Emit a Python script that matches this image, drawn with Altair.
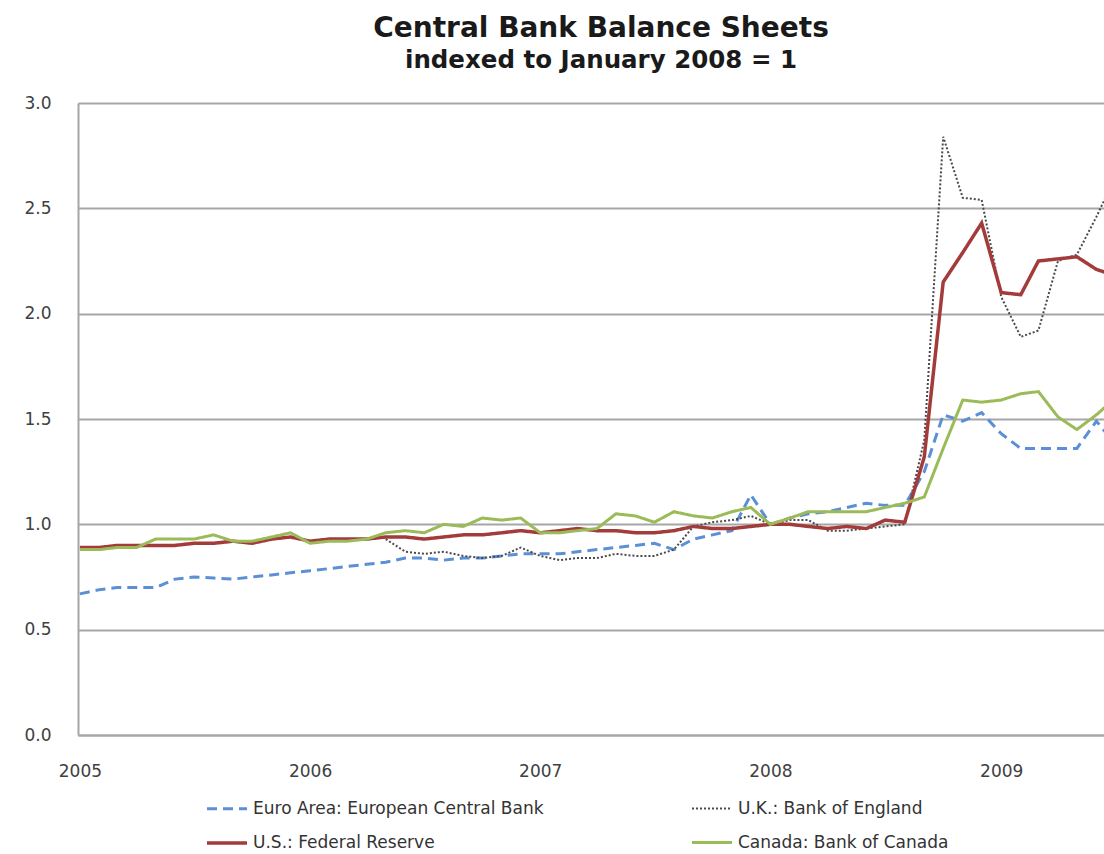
import altair as alt
import pandas as pd

months = pd.date_range("2005-01-01", "2009-07-01", freq="MS").strftime("%Y-%m-%d").tolist()

euro = [0.67, 0.69, 0.70, 0.70, 0.70, 0.74, 0.75, 0.745, 0.74, 0.75, 0.76, 0.77,
        0.78, 0.79, 0.80, 0.81, 0.82, 0.84, 0.84, 0.83, 0.84, 0.84, 0.85, 0.86,
        0.86, 0.86, 0.87, 0.88, 0.89, 0.90, 0.91, 0.88, 0.93, 0.95, 0.97, 1.14,
        1.00, 1.03, 1.05, 1.06, 1.08, 1.10, 1.09, 1.09, 1.25, 1.52, 1.49, 1.53,
        1.43, 1.36, 1.36, 1.36, 1.36, 1.49, 1.38]

uk = [None] * 16 + [0.93, 0.87, 0.86, 0.87, 0.85, 0.84, 0.85, 0.89,
      0.85, 0.83, 0.84, 0.84, 0.86, 0.85, 0.85, 0.88, 0.99, 1.01, 1.02, 1.04,
      1.00, 1.02, 1.02, 0.97, 0.97, 0.98, 0.99, 1.00, 1.40, 2.84, 2.55, 2.54,
      2.08, 1.89, 1.92, 2.25, 2.28, 2.46, 2.65]

us = [0.89, 0.89, 0.90, 0.90, 0.90, 0.90, 0.91, 0.91, 0.92, 0.91, 0.93, 0.94,
      0.92, 0.93, 0.93, 0.93, 0.94, 0.94, 0.93, 0.94, 0.95, 0.95, 0.96, 0.97,
      0.96, 0.97, 0.98, 0.97, 0.97, 0.96, 0.96, 0.97, 0.99, 0.98, 0.98, 0.99,
      1.00, 1.00, 0.99, 0.98, 0.99, 0.98, 1.02, 1.01, 1.32, 2.15, 2.29, 2.43,
      2.10, 2.09, 2.25, 2.26, 2.27, 2.21, 2.18]

canada = [0.88, 0.88, 0.89, 0.89, 0.93, 0.93, 0.93, 0.95, 0.92, 0.92, 0.94, 0.96,
          0.91, 0.92, 0.92, 0.93, 0.96, 0.97, 0.96, 1.00, 0.99, 1.03, 1.02, 1.03,
          0.96, 0.96, 0.97, 0.98, 1.05, 1.04, 1.01, 1.06, 1.04, 1.03, 1.06, 1.08,
          1.00, 1.03, 1.06, 1.06, 1.06, 1.06, 1.08, 1.10, 1.13, 1.36, 1.59, 1.58,
          1.59, 1.62, 1.63, 1.51, 1.45, 1.52, 1.60]

series_names = ["Euro Area: European Central Bank", "U.K.: Bank of England",
                "U.S.: Federal Reserve", "Canada: Bank of Canada"]
series_values = [euro, uk, us, canada]
colors = ["#5B8FD6", "#4a4a4a", "#A33B3B", "#9BBB59"]
dashes = [[10, 6], [2, 2], [1, 0], [1, 0]]
widths = [3.0, 2.0, 3.5, 3.0]

# legend is filled column by column: column 1 = Euro, U.S.; column 2 = U.K., Canada
legend_order = [0, 2, 1, 3]
leg_names = [series_names[i] for i in legend_order]
leg_colors = [colors[i] for i in legend_order]
leg_dashes = [dashes[i] for i in legend_order]
leg_widths = [widths[i] for i in legend_order]

rows = []
for k, (name, vals) in enumerate(zip(series_names, series_values)):
    for m, v in zip(months, vals):
        if v is not None:
            rows.append({"month": m, "series": name, "value": v, "draw": k})
df = pd.DataFrame(rows)

chart = alt.Chart(df).mark_line(clip=True).encode(
    x=alt.X("month:T",
            scale=alt.Scale(domain=["2004-12-29", "2009-06-13"]),
            axis=alt.Axis(title=None, format="%Y", tickCount={"interval": "year", "step": 1},
                          grid=False, ticks=False, labelPadding=28,
                          domainColor="#a6a6a6", domainWidth=2)),
    y=alt.Y("value:Q",
            scale=alt.Scale(domain=[0, 3]),
            axis=alt.Axis(title=None, values=[0, 0.5, 1.0, 1.5, 2.0, 2.5, 3.0], format=".1f",
                          ticks=False, labelPadding=27, gridColor="#a6a6a6", gridWidth=2,
                          domainColor="#a6a6a6", domainWidth=2)),
    color=alt.Color("series:N", sort=leg_names,
                    scale=alt.Scale(domain=leg_names, range=leg_colors),
                    legend=alt.Legend(title=None, orient="none", legendX=127, legendY=684,
                                      columns=2, columnPadding=142, rowPadding=4,
                                      symbolType="stroke", symbolSize=1600, symbolStrokeWidth=3,
                                      labelFont="DejaVu Sans", labelFontSize=17, labelLimit=0,
                                      labelColor="#333333", labelOffset=4)),
    strokeDash=alt.StrokeDash("series:N", sort=leg_names,
                              scale=alt.Scale(type="ordinal", domain=leg_names, range=leg_dashes),
                              legend=None),
    strokeWidth=alt.StrokeWidth("series:N", sort=leg_names,
                                scale=alt.Scale(type="ordinal", domain=leg_names, range=leg_widths),
                                legend=None),
    order=alt.Order("draw:Q"),
).properties(
    width=1026, height=632,
    title=alt.TitleParams(text="Central Bank Balance Sheets", subtitle="indexed to January 2008 = 1",
                          font="DejaVu Sans", fontSize=28, fontWeight="bold", color="#1a1a1a",
                          subtitleFont="DejaVu Sans", subtitleFontSize=24.5, subtitleFontWeight="bold",
                          subtitleColor="#1a1a1a", anchor="middle", offset=22, dx=10,
                          subtitlePadding=6),
    autosize=alt.AutoSizeParams(type="none"),
    padding={"left": 78, "top": 103, "right": 0, "bottom": 119},
).configure_view(stroke=None).configure_axis(
    labelFont="DejaVu Sans", labelFontSize=17, labelColor="#404040"
)

chart.save("out.html", embed_options={"renderer": "svg", "actions": False})
